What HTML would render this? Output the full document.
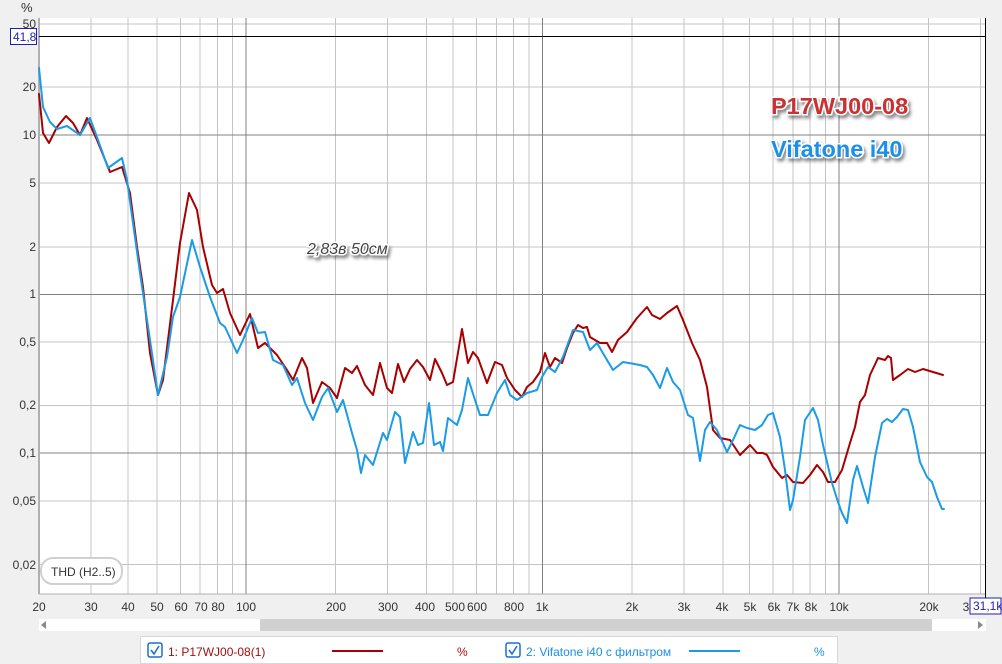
<!DOCTYPE html>
<html><head><meta charset="utf-8"><style>
html,body{margin:0;padding:0;background:#f0f0f0;}
svg{display:block;font-family:"Liberation Sans",sans-serif;}
</style></head><body>
<svg width="1002" height="664" viewBox="0 0 1002 664" xmlns="http://www.w3.org/2000/svg">
<defs>
<filter id="sh" x="-20%" y="-40%" width="140%" height="180%">
<feDropShadow dx="2" dy="3" stdDeviation="1.5" flood-color="#000" flood-opacity="0.45"/>
</filter>
</defs>
<rect x="0" y="0" width="1002" height="664" fill="#f0f0f0"/>
<rect x="39" y="18" width="947" height="576" fill="#fff"/>
<g stroke="#c4c4c4" stroke-width="1">
<line x1="91" y1="18" x2="91" y2="594"/><line x1="128" y1="18" x2="128" y2="594"/><line x1="157" y1="18" x2="157" y2="594"/><line x1="180.5" y1="18" x2="180.5" y2="594"/><line x1="200" y1="18" x2="200" y2="594"/><line x1="217.5" y1="18" x2="217.5" y2="594"/><line x1="232.5" y1="18" x2="232.5" y2="594"/>
<line x1="335.5" y1="18" x2="335.5" y2="594"/><line x1="387.5" y1="18" x2="387.5" y2="594"/><line x1="426.5" y1="18" x2="426.5" y2="594"/><line x1="453" y1="18" x2="453" y2="594"/><line x1="476.5" y1="18" x2="476.5" y2="594"/><line x1="496.5" y1="18" x2="496.5" y2="594"/><line x1="513.5" y1="18" x2="513.5" y2="594"/><line x1="529" y1="18" x2="529" y2="594"/>
<line x1="632" y1="18" x2="632" y2="594"/><line x1="684" y1="18" x2="684" y2="594"/><line x1="723" y1="18" x2="723" y2="594"/><line x1="749.5" y1="18" x2="749.5" y2="594"/><line x1="773" y1="18" x2="773" y2="594"/><line x1="793" y1="18" x2="793" y2="594"/><line x1="810" y1="18" x2="810" y2="594"/><line x1="825.5" y1="18" x2="825.5" y2="594"/>
<line x1="928.5" y1="18" x2="928.5" y2="594"/><line x1="980.5" y1="18" x2="980.5" y2="594"/>
<line x1="39" y1="24" x2="986" y2="24"/><line x1="39" y1="87" x2="986" y2="87"/><line x1="39" y1="183" x2="986" y2="183"/><line x1="39" y1="247" x2="986" y2="247"/><line x1="39" y1="342" x2="986" y2="342"/><line x1="39" y1="405.5" x2="986" y2="405.5"/><line x1="39" y1="501" x2="986" y2="501"/><line x1="39" y1="564.5" x2="986" y2="564.5"/>
</g>
<g stroke="#808080" stroke-width="1">
<line x1="246" y1="18" x2="246" y2="594"/><line x1="542.5" y1="18" x2="542.5" y2="594"/><line x1="839" y1="18" x2="839" y2="594"/>
<line x1="39" y1="135" x2="986" y2="135"/><line x1="39" y1="294.5" x2="986" y2="294.5"/><line x1="39" y1="453" x2="986" y2="453"/>
</g>
<line x1="39" y1="18" x2="39" y2="594" stroke="#b0b0b0" stroke-width="2"/>
<line x1="39" y1="594" x2="986" y2="594" stroke="#b0b0b0" stroke-width="1"/>
<line x1="39" y1="36.5" x2="986" y2="36.5" stroke="#000" stroke-width="1"/>
<line x1="985.5" y1="18" x2="985.5" y2="598" stroke="#000" stroke-width="1"/>

<polyline fill="none" stroke="#a80000" stroke-width="2" stroke-linejoin="round" stroke-linecap="round" points="39,94 43,133 49,143 57,127 66,116 73,123 80,135 87,118 97,140 110,172 122,167 130,193 137,247 143,287 150,353 158,395 163,380 173,300 180,243 189,193 197,210 203,247 212,285 217,293 223,289 230,313 240,335 250,314 258,348 265,343 277,355 287,370 293,380 302,358 307,368 313,403 322,382 330,388 337,398 345,368 352,373 357,366 365,385 373,395 380,363 387,388 392,393 398,364 404,382 410,369 417,360 423,367 430,380 435,359 442,373 447,385 453,382 462,329 468,363 473,352 478,358 487,383 495,362 502,365 507,378 515,390 522,397 527,387 533,382 540,372 545,353 550,367 555,358 562,363 567,348 573,333 578,325 583,328 587,327 590,337 595,340 600,343 607,343 612,352 618,340 627,332 637,318 647,307 652,315 660,319 667,313 677,306 683,320 692,343 700,360 707,387 713,430 720,438 730,440 740,455 750,445 757,453 763,453 767,455 773,467 782,478 787,475 793,482 803,483 810,475 817,465 823,472 828,482 835,482 842,470 850,443 855,427 860,402 865,395 870,375 878,358 885,360 888,356 891,358 893,380 900,375 908,369 915,372 923,369 933,372 943,375"/>
<polyline fill="none" stroke="#1a9be6" stroke-width="2" stroke-linejoin="round" stroke-linecap="round" points="39,68 43,107 50,122 57,129 67,126 80,135 90,118 98,140 108,168 122,158 127,180 140,273 150,340 158,395 167,357 173,317 180,297 192,240 200,267 210,297 220,323 225,327 237,353 243,340 252,318 258,333 265,332 273,360 283,365 292,385 297,378 305,403 313,420 322,397 328,388 337,412 343,400 352,433 357,450 361,473 365,455 373,465 383,433 387,440 395,412 400,417 405,463 413,432 418,445 423,443 429,403 434,445 440,442 443,451 448,418 457,425 462,410 468,378 475,400 480,415 488,415 497,393 505,380 510,395 517,400 527,393 537,390 542,377 548,367 555,372 563,357 573,330 583,332 590,350 597,343 607,360 613,370 623,362 640,365 647,367 653,375 660,388 667,368 673,382 680,390 688,415 693,418 700,461 705,430 710,422 717,430 727,452 733,440 740,425 747,428 755,430 762,425 768,415 773,413 780,437 785,470 790,510 793,500 800,457 805,420 813,408 818,420 823,445 832,483 838,502 842,513 847,523 853,480 857,466 863,487 868,503 875,457 882,423 887,419 892,422 897,417 903,409 908,410 913,427 920,462 927,477 932,482 937,497 942,509 944,509"/>

<g font-size="12" fill="#333" text-anchor="end">
<text x="21" y="12" text-anchor="start" font-size="13">%</text>
<text x="36" y="28">50</text>
<text x="36" y="91">20</text>
<text x="36" y="139">10</text>
<text x="36" y="187">5</text>
<text x="36" y="251">2</text>
<text x="36" y="298">1</text>
<text x="36" y="346">0,5</text>
<text x="36" y="409">0,2</text>
<text x="36" y="457">0,1</text>
<text x="36" y="505">0,05</text>
<text x="36" y="569">0,02</text>
</g>
<rect x="10.5" y="28.5" width="26" height="16" fill="#fff" stroke="#1f1fb0" stroke-width="1"/>
<text x="13" y="41" font-size="12" fill="#1f1fb0">41,8</text>

<g font-size="12" fill="#333" text-anchor="middle">
<text x="39" y="611">20</text><text x="91" y="611">30</text><text x="128" y="611">40</text><text x="157" y="611">50</text><text x="181" y="611">60</text><text x="201" y="611">70</text><text x="218" y="611">80</text><text x="246" y="611">100</text>
<text x="336" y="611">200</text><text x="388" y="611">300</text><text x="425" y="611">400</text><text x="455" y="611">500</text><text x="477" y="611">600</text><text x="514" y="611">800</text><text x="542" y="611">1k</text>
<text x="632" y="611">2k</text><text x="684" y="611">3k</text><text x="722" y="611">4k</text><text x="750" y="611">5k</text><text x="774" y="611">6k</text><text x="793" y="611">7k</text><text x="811" y="611">8k</text><text x="839" y="611">10k</text>
<text x="929" y="611">20k</text><text x="966" y="611">3</text>
</g>
<rect x="970" y="598" width="31" height="16" fill="#fff" stroke="#1f1fb0" stroke-width="1"/>
<text x="973" y="610" font-size="12" fill="#1f1fb0">31,1k</text>

<rect x="41" y="558" width="81" height="26" rx="12" fill="#fff" stroke="#d0d0d0" stroke-width="2"/>
<text x="51" y="576" font-size="12" fill="#333">THD (H2..5)</text>

<g font-weight="bold" font-size="23.5" filter="url(#sh)" stroke="#fff" stroke-width="3" paint-order="stroke">
<text x="771" y="114" fill="#c83232">P17WJ00-08</text>
<text x="771" y="157" fill="#1a8fe8">Vifatone i40</text>
</g>
<text x="307" y="254" font-size="16" font-style="italic" fill="#444" stroke="#fff" stroke-width="3" paint-order="stroke" filter="url(#sh)">2,83в  50см</text>

<rect x="39" y="619" width="947" height="12" fill="#fff"/>
<rect x="260" y="619" width="672" height="12" fill="#d0d0d0"/>
<polygon points="41,625 46,621 46,629" fill="#888"/>
<polygon points="983,625 978,621 978,629" fill="#888"/>

<rect x="140.5" y="636.5" width="697" height="27" fill="#fff" stroke="#d8d8d8"/>
<rect x="148" y="643" width="14" height="14" rx="2" fill="#fff" stroke="#1a6fd0" stroke-width="1.5"/>
<polyline points="151,650 154,654 159,646" fill="none" stroke="#1a6fd0" stroke-width="1.6"/>
<text x="168" y="656" font-size="12" fill="#a01010">1: P17WJ00-08(1)</text>
<line x1="332" y1="651" x2="383" y2="651" stroke="#a80000" stroke-width="2"/>
<text x="457" y="656" font-size="12" fill="#a01010">%</text>
<rect x="506" y="643" width="14" height="14" rx="2" fill="#fff" stroke="#1a6fd0" stroke-width="1.5"/>
<polyline points="509,650 512,654 517,646" fill="none" stroke="#1a6fd0" stroke-width="1.6"/>
<text x="526" y="656" font-size="12" fill="#1a8fe8">2: Vifatone i40 с фильтром</text>
<line x1="689" y1="651" x2="740" y2="651" stroke="#1a9be6" stroke-width="2"/>
<text x="814" y="656" font-size="12" fill="#1a8fe8">%</text>
</svg>
</body></html>
